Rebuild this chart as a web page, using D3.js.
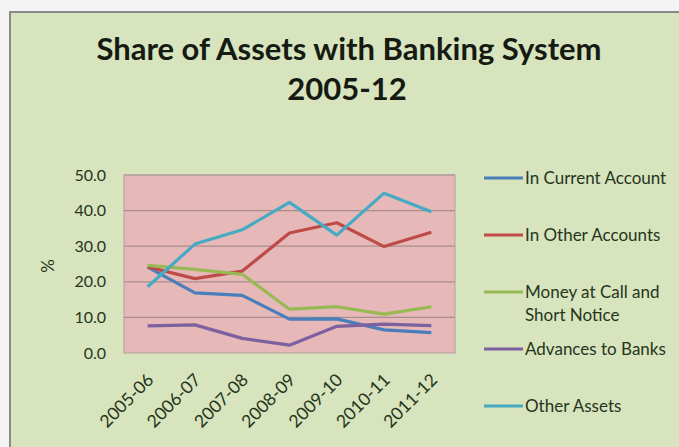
<!DOCTYPE html>
<html>
<head>
<meta charset="utf-8">
<script src="https://cdn.jsdelivr.net/npm/d3@7/dist/d3.min.js"></script>
<style>
  html, body { margin: 0; padding: 0; background: #f4f4f4; }
  svg { display: block; }
  text { font-family: Lato, "Open Sans", sans-serif; }
</style>
</head>
<body>
<svg id="chart" width="679" height="447"></svg>
<script>
// Years on the category axis
const years = ["2005-06", "2006-07", "2007-08", "2008-09", "2009-10", "2010-11", "2011-12"];

// Share of each asset type (%)
const inCurrentAccount = [24.1, 16.9, 16.2, 9.5, 9.6, 6.5, 5.7];
const inOtherAccounts  = [24.2, 20.9, 23.0, 33.7, 36.6, 29.9, 33.9];
const moneyAtCall      = [24.6, 23.5, 22.1, 12.3, 13.0, 10.9, 13.0];
const advancesToBanks  = [7.6, 7.9, 4.1, 2.2, 7.5, 8.1, 7.7];
const otherAssets      = [18.6, 30.6, 34.6, 42.3, 33.1, 44.9, 39.7];

const seriesNames = ["In Current Account", "In Other Accounts", "Money at Call and Short Notice", "Advances to Banks", "Other Assets"];
const yTicks = [0, 10, 20, 30, 40, 50];

const seriesValues = [inCurrentAccount, inOtherAccounts, moneyAtCall, advancesToBanks, otherAssets];
const colors = ["#4a7ebb", "#be4b48", "#98b954", "#7d60a0", "#46aac5"];

const svg = d3.select("#chart");

// chart frame
svg.append("rect")
  .attr("x", 10).attr("y", 12).attr("width", 680).attr("height", 450)
  .attr("fill", "#d7e4bd").attr("stroke", "#8a8a8a").attr("stroke-width", 2);

// title
const title = svg.append("text")
  .attr("text-anchor", "middle")
  .attr("font-size", 31).attr("font-weight", "bold").attr("fill", "#151a12");
title.append("tspan").attr("x", 349).attr("y", 60).text("Share of Assets with Banking System");
title.append("tspan").attr("x", 347).attr("y", 100).text("2005-12");

const plot = { left: 124, right: 455, top: 175, bottom: 353 };

const x = d3.scaleBand().domain(years).range([plot.left, plot.right]);
const y = d3.scaleLinear().domain([0, 50]).range([plot.bottom, plot.top]);

// plot area
svg.append("rect")
  .attr("x", plot.left).attr("y", plot.top)
  .attr("width", plot.right - plot.left).attr("height", plot.bottom - plot.top)
  .attr("fill", "#e6b9b8");

// gridlines
svg.append("g").selectAll("line").data(yTicks.filter(t => t > 0)).join("line")
  .attr("x1", plot.left).attr("x2", plot.right)
  .attr("y1", d => y(d)).attr("y2", d => y(d))
  .attr("stroke", "#a98d8c").attr("stroke-width", 1.2);

svg.append("rect")
  .attr("x", plot.left).attr("y", plot.top)
  .attr("width", plot.right - plot.left).attr("height", plot.bottom - plot.top)
  .attr("fill", "none").attr("stroke", "#b0a0a0").attr("stroke-width", 1);

// y axis
const yAxis = svg.append("g")
  .attr("transform", `translate(${plot.left},0)`)
  .call(d3.axisLeft(y).tickValues(yTicks).tickFormat(d3.format(".1f")).tickSize(0).tickPadding(18));
yAxis.select(".domain").remove();
yAxis.selectAll("text").attr("font-size", 16).attr("fill", "#26351c").attr("font-family", "Lato, sans-serif");

svg.append("text")
  .attr("transform", "translate(54,266) rotate(-90)")
  .attr("text-anchor", "middle").attr("font-size", 17).attr("fill", "#26351c")
  .text("%");

// x axis
const xAxis = svg.append("g")
  .attr("transform", `translate(0,${plot.bottom})`)
  .call(d3.axisBottom(x).tickSize(0).tickPadding(0));
xAxis.select(".domain").remove();
xAxis.selectAll("text")
  .attr("font-size", 17.5).attr("fill", "#26351c").attr("font-family", "Lato, sans-serif")
  .attr("text-anchor", "end")
  .attr("dy", 0)
  .attr("transform", "translate(7,28) rotate(-45)");

// lines
const line = d3.line()
  .x((d, i) => x(years[i]) + x.bandwidth() / 2)
  .y(d => y(d));

svg.append("g").selectAll("path").data(seriesValues).join("path")
  .attr("d", d => line(d))
  .attr("fill", "none")
  .attr("stroke", (d, i) => colors[i])
  .attr("stroke-width", 3.2)
  .attr("stroke-linejoin", "round");

// legend
const legendY = [178, 235, 292, 349, 406];
const legend = svg.append("g");
seriesNames.forEach((name, i) => {
  legend.append("line")
    .attr("x1", 484).attr("x2", 523)
    .attr("y1", legendY[i]).attr("y2", legendY[i])
    .attr("stroke", colors[i]).attr("stroke-width", 3);
  const t = legend.append("text")
    .attr("x", 525).attr("y", legendY[i] + 6)
    .attr("font-size", 17).attr("fill", "#26351c");
  if (name === "Money at Call and Short Notice") {
    t.append("tspan").attr("x", 525).text("Money at Call and");
    t.append("tspan").attr("x", 525).attr("dy", 23).text("Short Notice");
  } else {
    t.text(name);
  }
});
</script>
</body>
</html>
